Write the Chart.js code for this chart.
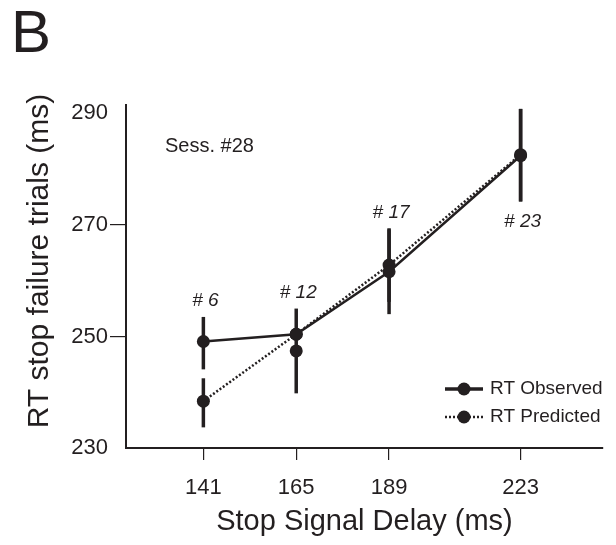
<!DOCTYPE html>
<html>
<head>
<meta charset="utf-8">
<script src="https://cdn.jsdelivr.net/npm/chart.js@4/dist/chart.umd.min.js"></script>
<style>
  html, body { margin: 0; padding: 0; background: #fff; }
</style>
</head>
<body>
<canvas id="chart" width="616" height="545"></canvas>
<script>
// values (ms)
const delays = [141, 165, 189, 223];
const observed = [249.1, 250.4, 261.6, 282.4];
const observedLow = [244.1, null, 254.0, 274.2];
const observedHigh = [253.5, null, 269.2, 290.8];
const predicted = [238.4, 250.4, 262.8, 282.6];
const predictedLow = [233.7, null, 256.2, 274.2];
const predictedHigh = [242.5, null, 269.4, 290.8];
// lone marker with its own bar at 165 ms
const loneDelay = [165];
const loneValue = [247.4];
const loneLow = [239.8];
const loneHigh = [255.0];
const trialCounts = ["# 6", "# 12", "# 17", "# 23"];
const yTicks = [230, 250, 270, 290];

const INK = "#231f20";
const FONT = "'Liberation Sans', Arial, Helvetica, sans-serif";

// error bars under the points
const errorBars = {
  id: "errorBars",
  beforeDatasetsDraw(chart) {
    const ctx = chart.ctx;
    const x = chart.scales.x, y = chart.scales.y;
    ctx.save();
    ctx.strokeStyle = INK;
    ctx.lineWidth = 3.5;
    chart.data.datasets.forEach(ds => {
      ds.data.forEach((p, i) => {
        if (ds.low[i] == null) return;
        const px = x.getPixelForValue(p.x);
        ctx.beginPath();
        ctx.moveTo(px, y.getPixelForValue(ds.low[i]));
        ctx.lineTo(px, y.getPixelForValue(ds.high[i]));
        ctx.stroke();
      });
    });
    ctx.restore();
  }
};

// panel letter, session note, trial counts, y title and legend
const extras = {
  id: "extras",
  afterDraw(chart) {
    const ctx = chart.ctx;
    const area = chart.chartArea;
    const x = chart.scales.x, y = chart.scales.y;
    ctx.save();
    ctx.fillStyle = INK;

    ctx.font = "60px " + FONT;
    ctx.textAlign = "left";
    ctx.textBaseline = "alphabetic";
    ctx.fillText("B", 11, 52);

    ctx.font = "20px " + FONT;
    ctx.fillText("Sess. #28", area.left + 39, area.top + 47);

    // trial counts above (or below, for the last) each group of bars
    ctx.font = "italic 19px " + FONT;
    ctx.textAlign = "center";
    ctx.textBaseline = "middle";
    trialCounts.forEach((t, i) => {
      const d = delays[i];
      let hi = -Infinity, lo = Infinity;
      chart.data.datasets.forEach(ds => {
        ds.data.forEach((p, j) => {
          if (p.x !== d || ds.low[j] == null) return;
          hi = Math.max(hi, ds.high[j]);
          lo = Math.min(lo, ds.low[j]);
        });
      });
      const px = x.getPixelForValue(d) + 2;
      const py = i === delays.length - 1
        ? y.getPixelForValue(lo) + 20
        : y.getPixelForValue(hi) - 16;
      ctx.fillText(t, px, py);
    });

    // y axis title
    ctx.save();
    ctx.translate(40, 261);
    ctx.rotate(-Math.PI / 2);
    ctx.font = "30px " + FONT;
    ctx.fillText("RT stop failure trials (ms)", 0, 0);
    ctx.restore();

    // legend (first two series)
    const lx = area.right - 158;
    chart.data.datasets.slice(0, 2).forEach((ds, i) => {
      const ly = area.bottom - 59 + i * 28;
      ctx.strokeStyle = INK;
      ctx.lineWidth = ds.borderWidth + (i === 0 ? 1 : 0);
      ctx.setLineDash(ds.borderDash || []);
      ctx.beginPath();
      ctx.moveTo(lx, ly);
      ctx.lineTo(lx + 38, ly);
      ctx.stroke();
      ctx.setLineDash([]);
      ctx.beginPath();
      ctx.arc(lx + 19, ly, 6.5, 0, Math.PI * 2);
      ctx.fill();
      ctx.font = "19px " + FONT;
      ctx.textAlign = "left";
      ctx.fillText(ds.label, lx + 45, ly);
    });
    ctx.restore();
  }
};

const pointStyle = {
  borderColor: INK,
  backgroundColor: INK,
  pointRadius: 6.5,
  pointBorderWidth: 0,
  pointBackgroundColor: INK
};

new Chart(document.getElementById("chart"), {
  type: "line",
  data: {
    datasets: [
      Object.assign({
        label: "RT Observed",
        data: delays.map((d, i) => ({ x: d, y: observed[i] })),
        low: observedLow,
        high: observedHigh,
        borderWidth: 2.5
      }, pointStyle),
      Object.assign({
        label: "RT Predicted",
        data: delays.map((d, i) => ({ x: d, y: predicted[i] })),
        low: predictedLow,
        high: predictedHigh,
        borderWidth: 2.5,
        borderDash: [2, 2]
      }, pointStyle),
      Object.assign({
        label: "RT Observed (165)",
        data: loneDelay.map((d, i) => ({ x: d, y: loneValue[i] })),
        low: loneLow,
        high: loneHigh,
        showLine: false
      }, pointStyle)
    ]
  },
  options: {
    responsive: false,
    animation: false,
    clip: false,
    layout: { padding: { top: 105, right: 13, left: 0, bottom: 0 } },
    plugins: { legend: { display: false }, tooltip: { enabled: false } },
    scales: {
      x: {
        type: "linear",
        min: 121,
        max: 244.3,
        afterBuildTicks: s => { s.ticks = delays.map(v => ({ value: v })); },
        afterFit: s => { s.height = 97; },
        border: { color: INK, width: 2 },
        grid: { drawOnChartArea: false, tickLength: 12, color: INK, lineWidth: 1.2 },
        ticks: { color: INK, font: { family: FONT, size: 22 }, padding: 15, maxRotation: 0 },
        title: {
          display: true,
          text: "Stop Signal Delay (ms)",
          color: INK,
          font: { family: FONT, size: 29 },
          padding: { top: 0, bottom: 6 }
        }
      },
      y: {
        min: 230,
        max: 291.5,
        afterBuildTicks: s => { s.ticks = yTicks.map(v => ({ value: v })); },
        afterFit: s => { s.width = 126; },
        border: { color: INK, width: 2 },
        grid: {
          drawOnChartArea: false,
          tickLength: 16,
          lineWidth: 1.2,
          color: INK,
          tickColor: c => (c.tick && (c.tick.value === 250 || c.tick.value === 270)) ? INK : "rgba(0,0,0,0)"
        },
        ticks: { color: INK, font: { family: FONT, size: 22 }, padding: 2 }
      }
    }
  },
  plugins: [errorBars, extras]
});
</script>
</body>
</html>
